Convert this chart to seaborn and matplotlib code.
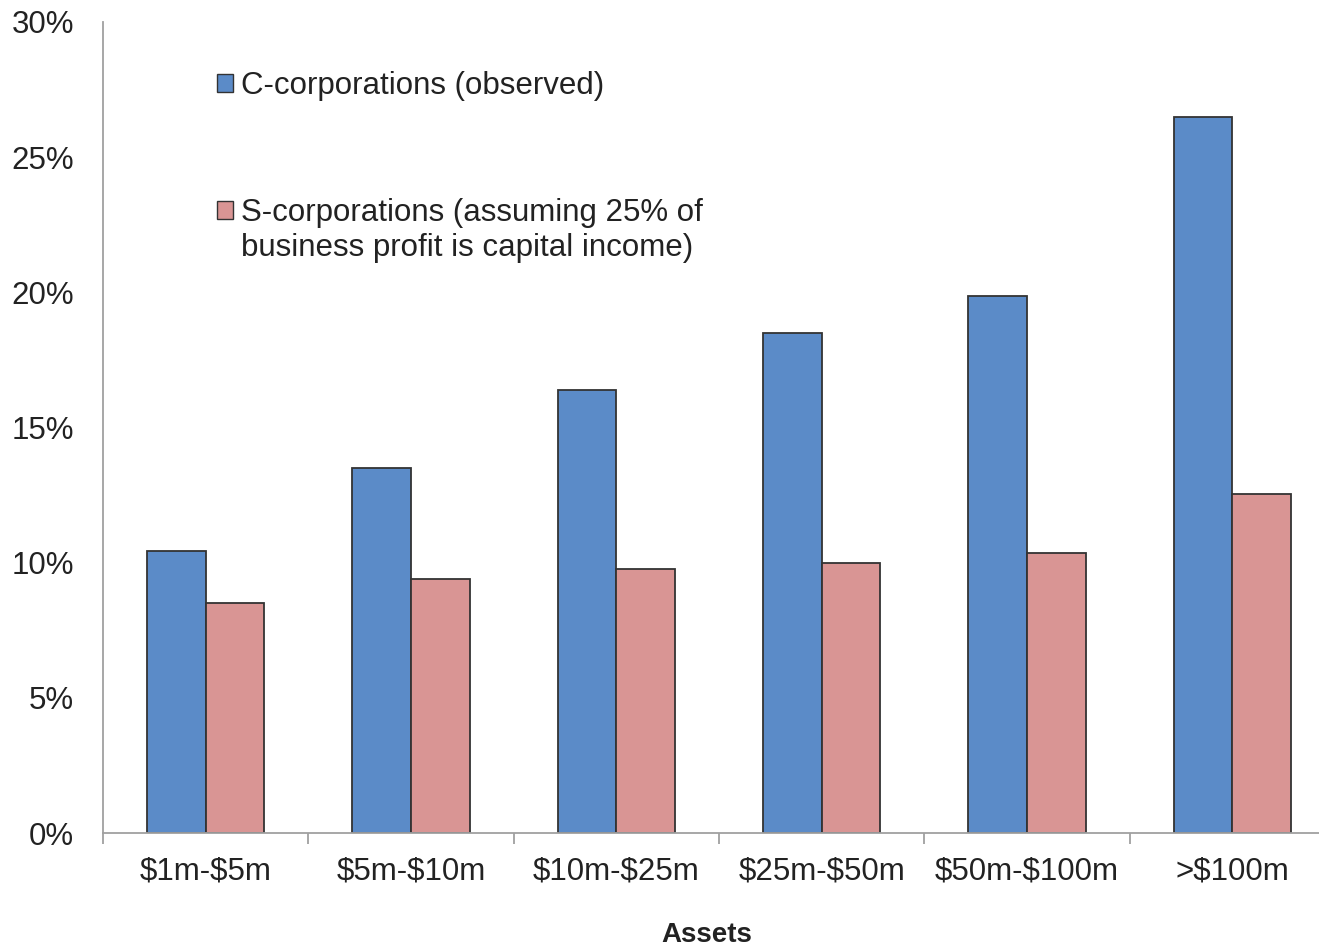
import matplotlib
matplotlib.use("Agg")
import matplotlib.pyplot as plt
import seaborn as sns
import pandas as pd
from matplotlib.patches import Patch
from matplotlib.ticker import FixedLocator, PercentFormatter

categories = ["$1m-$5m", "$5m-$10m", "$10m-$25m", "$25m-$50m", "$50m-$100m", ">$100m"]
c_corp = [10.45, 13.5, 16.4, 18.5, 19.85, 26.5]
s_corp = [8.5, 9.4, 9.75, 10.0, 10.35, 12.55]
series_names = ["C-corporations (observed)",
                "S-corporations (assuming 25% of\nbusiness profit is capital income)"]
colors = ["#5B8BC8", "#D99594"]

df = pd.DataFrame({
    "cat": categories * 2,
    "val": c_corp + s_corp,
    "series": [series_names[0]] * len(categories) + [series_names[1]] * len(categories),
})

sns.set_theme(style="white")
plt.rcParams["font.family"] = ["Liberation Sans", "DejaVu Sans"]
plt.rcParams["text.parse_math"] = False

FS = 22.5

fig = plt.figure(figsize=(13.19, 9.46), dpi=100)
ax = fig.add_axes([103 / 1319, 113 / 946, (1335 - 103) / 1319, (833 - 22) / 946])

sns.barplot(data=df, x="cat", y="val", hue="series", palette=colors,
            width=0.57, edgecolor="#333333", linewidth=1.3, ax=ax,
            legend=False, saturation=1)

ax.set_xlim(-0.5, len(categories) - 0.5)
ax.set_ylim(0, 30)
ax.set_yticks([0, 5, 10, 15, 20, 25, 30])
ax.yaxis.set_major_formatter(PercentFormatter(decimals=0))

for s in ["top", "right"]:
    ax.spines[s].set_visible(False)
for s in ["left", "bottom"]:
    ax.spines[s].set_color("#A0A0A0")
    ax.spines[s].set_linewidth(1.3)

ax.tick_params(axis="y", length=0, pad=21, labelsize=FS, labelcolor="#222222")
ax.tick_params(axis="x", which="major", length=0, pad=17, labelsize=FS, labelcolor="#222222")
ax.xaxis.set_minor_locator(FixedLocator([i - 0.5 for i in range(len(categories) + 1)]))
ax.tick_params(axis="x", which="minor", length=8, width=1.3, color="#A0A0A0", bottom=True)

ax.set_xlabel("Assets", fontsize=20, fontweight="bold", labelpad=26, color="#222222")
ax.xaxis.set_label_coords((707 - 103) / 1232, -0.11)
ax.set_ylabel("")

handles = [Patch(facecolor=colors[0], edgecolor="#333333", linewidth=1.0),
           Patch(facecolor=colors[1], edgecolor="#333333", linewidth=1.0)]
first_lines = [series_names[0], series_names[1].split("\n")[0]]
leg = ax.legend(handles, first_lines, loc="upper left",
                bbox_to_anchor=(217 / 1319, 1 - 71 / 946), bbox_transform=fig.transFigure,
                frameon=False, fontsize=FS, handlelength=0.5, handleheight=0.5,
                handletextpad=0.28, labelspacing=3.1, borderaxespad=0, borderpad=0)
for t in leg.get_texts():
    t.set_color("#222222")

fig.canvas.draw()
bb = leg.get_texts()[1].get_window_extent()
inv = fig.transFigure.inverted()
x0, y0 = inv.transform((bb.x0, bb.y0))
fig.text(x0, y0 - 35 / 946, series_names[1].split("\n")[1], fontsize=FS,
         color="#222222", ha="left", va="bottom")

fig.savefig("out.png", dpi=100)
